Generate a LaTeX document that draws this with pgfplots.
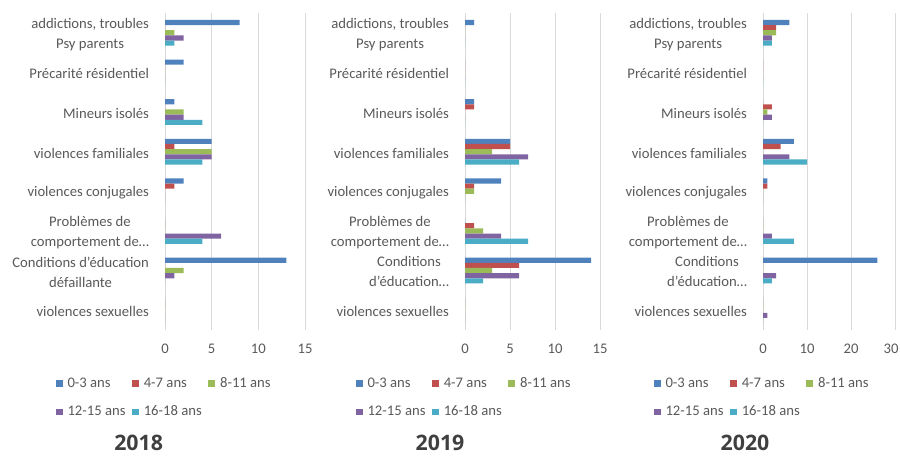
\documentclass[border=0pt]{standalone}
\usepackage{fontspec}
\setmainfont{Carlito}
\newfontfamily\yearfont{Open Sans}
\usepackage{pgfplots}
\usepackage{pgfplotstable}
\pgfplotsset{compat=1.18}

\definecolor{cA}{HTML}{4F81BD}
\definecolor{cB}{HTML}{C0504D}
\definecolor{cC}{HTML}{9BBB59}
\definecolor{cD}{HTML}{8064A2}
\definecolor{cE}{HTML}{4BACC6}
\definecolor{txt}{HTML}{595959}
\definecolor{gridc}{HTML}{D9D9D9}
\definecolor{yearc}{HTML}{3F3F3F}

% rows: 0 addictions, 1 precarite, 2 mineurs, 3 v. familiales,
% 4 v. conjugales, 5 comportement, 6 education, 7 v. sexuelles
\pgfplotstableread{
idx a03 a47 a811 a1215 a1618
0   8   0   1    2     1
1   2   0   0    0     0
2   1   0   2    2     4
3   5   1   5    5     4
4   2   1   0    0     0
5   0   0   0    6     4
6   13  0   2    1     0
7   0   0   0    0     0
}\dataA
\pgfplotstableread{
idx a03 a47 a811 a1215 a1618
0   1   0   0    0     0
1   0   0   0    0     0
2   1   1   0    0     0
3   5   5   3    7     6
4   4   1   1    0     0
5   0   1   2    4     7
6   14  6   3    6     2
7   0   0   0    0     0
}\dataB
\pgfplotstableread{
idx a03 a47 a811 a1215 a1618
0   6   3   3    2     2
1   0   0   0    0     0
2   0   2   1    2     0
3   7   4   0    6     10
4   1   1   0    0     0
5   0   0   0    2     7
6   26  0   0    3     2
7   0   0   0    1     0
}\dataC

\pgfplotsset{
  panel/.style={
    xbar, scale only axis, height=237.75pt,
    y dir=reverse, ymin=-0.5, ymax=7.5, ytick={0,...,7},
    xmin=0, xmajorgrids, grid style={gridc, line width=0.7pt},
    axis line style={draw=none}, major tick length=0pt,
    bar width=0.13,
    tick label style={font=\fontsize{11}{15}\selectfont, text=txt},
    yticklabel style={align=center, xshift=-8.5pt, yshift=-1pt},
    xticklabel style={yshift=-7pt},
    /pgf/number format/assume math mode=true,
    legend columns=3,
    legend style={draw=none, fill=none, at={(0,0)}, anchor=north west,
      xshift=-82pt, yshift=-33.75pt, inner sep=0pt,
      font=\fontsize{11}{12}\selectfont\color{txt},
      cells={anchor=west},
      row sep=8pt,
      /tikz/every odd column/.append style={column sep=1.5pt},
      /tikz/every even column/.append style={column sep=3pt}},
    clip=false,
  },
  sq/.style={draw=none, fill=#1,
    legend image code/.code={\fill[#1] (0pt,-2.6pt) rectangle (5.2pt,2.6pt);}},
}
\tikzset{
  year/.style={font=\yearfont\bfseries\fontsize{16}{18}\selectfont,
    text=yearc, inner sep=0pt},
}

\newcommand{\series}[1]{%
  \addplot[sq=cA, bar shift=-0.26] table[x=a03,   y=idx] {#1};
  \addplot[sq=cB, bar shift=-0.13] table[x=a47,   y=idx] {#1};
  \addplot[sq=cC, bar shift=0]     table[x=a811,  y=idx] {#1};
  \addplot[sq=cD, bar shift=0.13]  table[x=a1215, y=idx] {#1};
  \addplot[sq=cE, bar shift=0.26]  table[x=a1618, y=idx] {#1};
  \legend{0-3 ans, 4-7 ans, 8-11 ans, 12-15 ans, 16-18 ans}%
}

\begin{document}
\begin{tikzpicture}
\path[use as bounding box] (0,0) rectangle (675pt,-341.25pt);

\begin{axis}[panel, at={(123.75pt,-9.75pt)}, anchor=north west,
  width=105pt, xmax=15, xtick={0,5,10,15},
  yticklabels={{addictions, troubles\\Psy parents}, Précarité résidentiel,
    Mineurs isolés, violences familiales, violences conjugales,
    {Problèmes de\\comportement de\ldots}, {Conditions d'éducation\\défaillante},
    violences sexuelles}]
  \series{\dataA}
\end{axis}

\begin{axis}[panel, at={(348.75pt,-9.75pt)}, anchor=north west,
  width=101.25pt, xmax=15, xtick={0,5,10,15},
  yticklabels={{addictions, troubles\\Psy parents}, Précarité résidentiel,
    Mineurs isolés, violences familiales, violences conjugales,
    {Problèmes de\\comportement de\ldots}, {Conditions\\d'éducation\ldots},
    violences sexuelles}]
  \series{\dataB}
\end{axis}

\begin{axis}[panel, at={(572.25pt,-9.75pt)}, anchor=north west,
  width=99pt, xmax=30, xtick={0,10,20,30},
  xticklabels={0,10,20,\hspace*{-6pt}30},
  yticklabels={{addictions, troubles\\Psy parents}, Précarité résidentiel,
    Mineurs isolés, violences familiales, violences conjugales,
    {Problèmes de\\comportement de\ldots}, {Conditions\\d'éducation\ldots},
    violences sexuelles}]
  \series{\dataC}
\end{axis}

\node[year] at (104pt,-332.5pt) {2018};
\node[year] at (330pt,-332.5pt) {2019};
\node[year] at (558.75pt,-332.5pt) {2020};
\end{tikzpicture}
\end{document}
